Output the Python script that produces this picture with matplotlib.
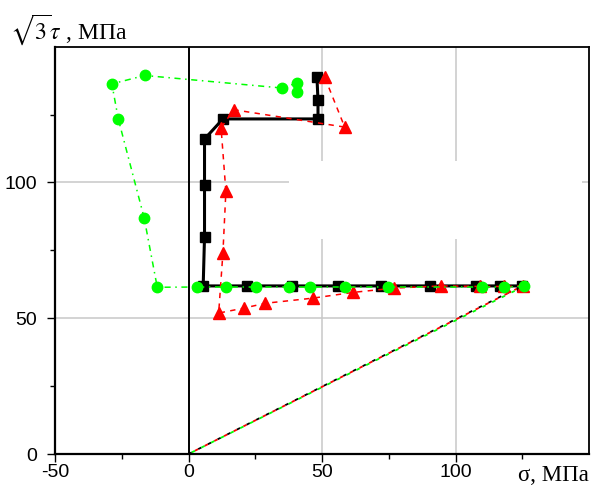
import numpy as np
import matplotlib
matplotlib.use("Agg")
import matplotlib.pyplot as plt
from matplotlib import font_manager
from matplotlib.patches import Rectangle

# Stress paths: sigma (x) and sqrt(3)*tau (y), MPa
# first segment of every path is the proportional loading from the origin
black_x = [0, 124.8, 116.8, 107.5, 90.4, 72.1, 56.0, 38.7, 21.9, 5.5,
           6.0, 6.0, 6.0, 12.9, 48.5, 48.5, 48.1]
black_y = [0, 61.9, 61.9, 61.9, 61.9, 61.9, 61.9, 61.9, 61.9, 61.9,
           80.0, 99.0, 116.0, 123.4, 123.4, 130.2, 138.9]

red_x = [0, 125.1, 118.0, 109.3, 94.5, 77.1, 61.5, 46.6, 28.7, 20.6, 11.3,
         12.9, 14.0, 12.2, 16.9, 58.5, 51.0]
red_y = [0, 61.9, 61.7, 61.7, 61.9, 61.1, 59.5, 57.4, 55.5, 53.7, 51.9,
         74.2, 96.7, 120.1, 126.8, 120.4, 138.8]

green_x = [0, 125.5, 118.0, 109.9, 74.9, 58.6, 45.4, 37.5, 25.3, 14.0, 3.2,
           -11.7, -16.6, -26.3, -28.7, -16.4, 34.9, 40.5, 40.5]
green_y = [0, 61.7, 61.5, 61.5, 61.5, 61.5, 61.5, 61.5, 61.5, 61.5, 61.5,
           61.4, 86.9, 123.4, 136.3, 139.4, 134.8, 136.6, 133.5]

xticks = [-50, 0, 50, 100]
xminor = [-25, 25, 75, 125]
yticks = [0, 50, 100]
yminor = [25, 75, 125]

# Condensed font for the tick labels, if available
names = {f.name for f in font_manager.fontManager.ttflist}
tick_family = "Liberation Sans Narrow" if "Liberation Sans Narrow" in names else "Liberation Sans"
tick_size = 15 if tick_family == "Liberation Sans Narrow" else 14
plt.rcParams["mathtext.fontset"] = "stix"
plt.rcParams["axes.unicode_minus"] = False

fig = plt.figure(figsize=(6.07, 4.86), dpi=100)
ax = fig.add_axes([55/607, 32/486, 534/607, 407.3/486])
ax.set_xlim(-50, 150)
ax.set_ylim(0, 150)

# Grid, origin line and the blank box hiding part of the grid
ax.set_axisbelow(True)
ax.grid(True, color="#c8c8c8", linewidth=1.1)
ax.axvline(0, color="black", linewidth=1.4, zorder=1.5)
ax.add_patch(Rectangle((37.5, 79.2), 110, 28.7, facecolor="white",
                       edgecolor="none", zorder=1))

green = "#00ff00"

# Proportional loading part, dotted in the three colours
for i, (x, y, c) in enumerate([(black_x, black_y, "black"),
                               (red_x, red_y, "#ff0000"),
                               (green_x, green_y, green)]):
    ax.plot(x[:2], y[:2], color=c, linewidth=1.3,
            linestyle=(2*i, (2, 4)), zorder=2)

# Remaining paths
ax.plot(black_x[1:], black_y[1:], color="black", linewidth=2.2,
        marker="s", markersize=6.5, zorder=3)
ax.plot(red_x[1:], red_y[1:], color="#ff0000", linewidth=1.1,
        linestyle=(0, (3.5, 3.5)), marker="^", markersize=8, zorder=4)
ax.plot(green_x[1:], green_y[1:], color=green, linewidth=1.1,
        linestyle=(0, (4, 3, 1, 3)), marker="o", markersize=7.5, zorder=5)

# Axes decoration
for s in ax.spines.values():
    s.set_linewidth(1.3)
ax.spines["left"].set_linewidth(1.6)
ax.spines["bottom"].set_linewidth(1.6)

ax.set_xticks(xticks)
ax.set_xticks(xminor, minor=True)
ax.set_yticks(yticks)
ax.set_yticks(yminor, minor=True)
ax.tick_params(which="major", direction="out", length=5.8, width=1.0)
ax.tick_params(which="minor", direction="out", length=3.6, width=1.0)
ax.tick_params(axis="x", which="major", pad=1.5)
ax.tick_params(axis="y", which="major", pad=7)
for lab in ax.get_xticklabels() + ax.get_yticklabels():
    lab.set_family(tick_family)
    lab.set_fontsize(tick_size)

# Axis titles
fig.text(10/607, (486-39)/486, r"$\sqrt{3}\tau$ , МПа", family="Liberation Serif",
         fontsize=17, ha="left", va="baseline")
fig.text(518/607, (486-481)/486, "σ, МПа", family="Liberation Serif",
         fontsize=16.5, ha="left", va="baseline")

fig.savefig("out.png", dpi=100)
